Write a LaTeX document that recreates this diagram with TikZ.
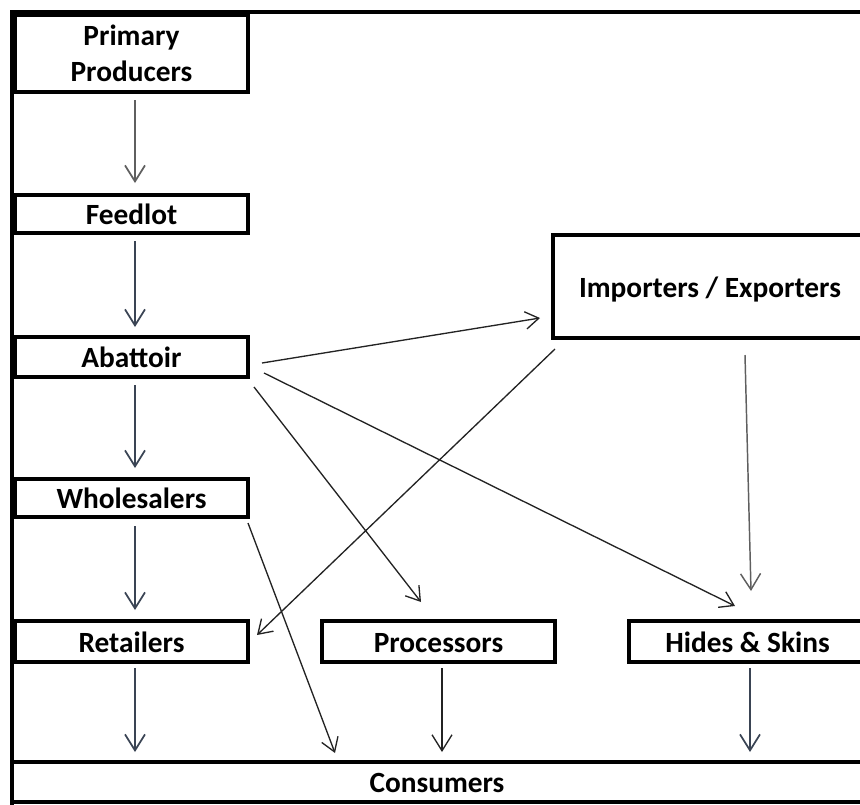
\documentclass[tikz,border=0pt]{standalone}
\usepackage{fontspec}
\setmainfont{Carlito}
\usetikzlibrary{arrows.meta}

\definecolor{pizarra}{RGB}{58,68,84}
\definecolor{grisflecha}{RGB}{95,95,95}
\definecolor{linea}{RGB}{35,35,35}

\begin{document}
\begin{tikzpicture}[x=0.75pt, y=-0.75pt,
    caja/.style={draw=black, line width=2.5pt, outer sep=0pt, inner sep=2pt,
        align=center, text height=16pt, text depth=0pt, font=\fontsize{22}{27}\selectfont\bfseries},
    flecha/.style={pizarra, line width=1.3pt, -{Straight Barb[length=12pt, width=15pt]}},
    diag/.style={linea, line width=1pt, -{Straight Barb[length=10pt, width=13pt]}}]
            \useasboundingbox (0,0) rectangle (860,804);
            \clip (0,0) rectangle (860,804);

            % Cajas
            \node[caja, minimum width=174.75pt, minimum height=57.75pt, text height=, text depth=] (prod) at (131.5,53.5) {Primary\\Producers};
            \node[caja, minimum width=174.75pt, minimum height=28.5pt] (feed) at (131.5,214) {Feedlot};
            \node[caja, minimum width=174.75pt, minimum height=30pt] (abat) at (131.5,357) {Abattoir};
            \node[caja, minimum width=174.75pt, minimum height=28.5pt] (whole) at (131.5,498) {Wholesalers};
            \node[caja, minimum width=174.75pt, minimum height=30.75pt] (retail) at (131.5,641.5) {Retailers};
            \node[caja, minimum width=174.75pt, minimum height=30.75pt] (proc) at (438.5,641.5) {Processors};
            \node[caja, minimum width=177.75pt, minimum height=30.75pt] (hides) at (747.5,641.5) {Hides \& Skins};
            \node[caja, minimum width=235.5pt, minimum height=77.25pt] (imp) at (710,286.5) {Importers / Exporters};
            \node[caja, minimum width=637.5pt, minimum height=30pt] (cons) at (437,782) {Consumers};

            % Marco
            \draw[black, line width=3pt] (12,806) -- (12,12) -- (862,12);

            % Flechas verticales
            \draw[flecha, grisflecha] ([shift={(3.5,8)}]prod.south) -- ([shift={(3.5,-12)}]feed.north);
            \draw[flecha] ([shift={(3.5,8)}]feed.south) -- ([shift={(3.5,-10)}]abat.north);
            \draw[flecha] ([shift={(3.5,8)}]abat.south) -- ([shift={(3.5,-11)}]whole.north);
            \draw[flecha] ([shift={(3.5,9)}]whole.south) -- ([shift={(3.5,-11)}]retail.north);
            \draw[flecha] ([shift={(3.5,6)}]retail.south) -- ([shift={(3.5,-10)}]retail.south |- cons.north);
            \draw[flecha, linea, line width=1pt] ([shift={(3.5,6)}]proc.south) -- ([shift={(3.5,-10)}]proc.south |- cons.north);
            \draw[flecha] ([shift={(2.5,6)}]hides.south) -- ([shift={(2.5,-10)}]hides.south |- cons.north);
            \draw[flecha, grisflecha, line width=1.1pt] ([shift={(35,17)}]imp.south) -- ([shift={(3.5,-30)}]hides.north);

            % Flechas diagonales
            \draw[diag] ([shift={(14,6)}]abat.east) -- ([shift={(-13,31.5)}]imp.west);
            \draw[diag] ([shift={(16,16)}]abat.east) -- ([shift={(-12.5,-15)}]hides.north);
            \draw[diag] ([shift={(6,10)}]abat.south east) -- ([shift={(-17.5,-19)}]proc.north);
            \draw[diag] ([shift={(2,11)}]imp.south west) -- ([shift={(9,-6.5)}]retail.east);
            \draw[diag] ([shift={(0,6)}]whole.south east) -- ([shift={(323,-9)}]cons.north west);
        \end{tikzpicture}
\end{document}
